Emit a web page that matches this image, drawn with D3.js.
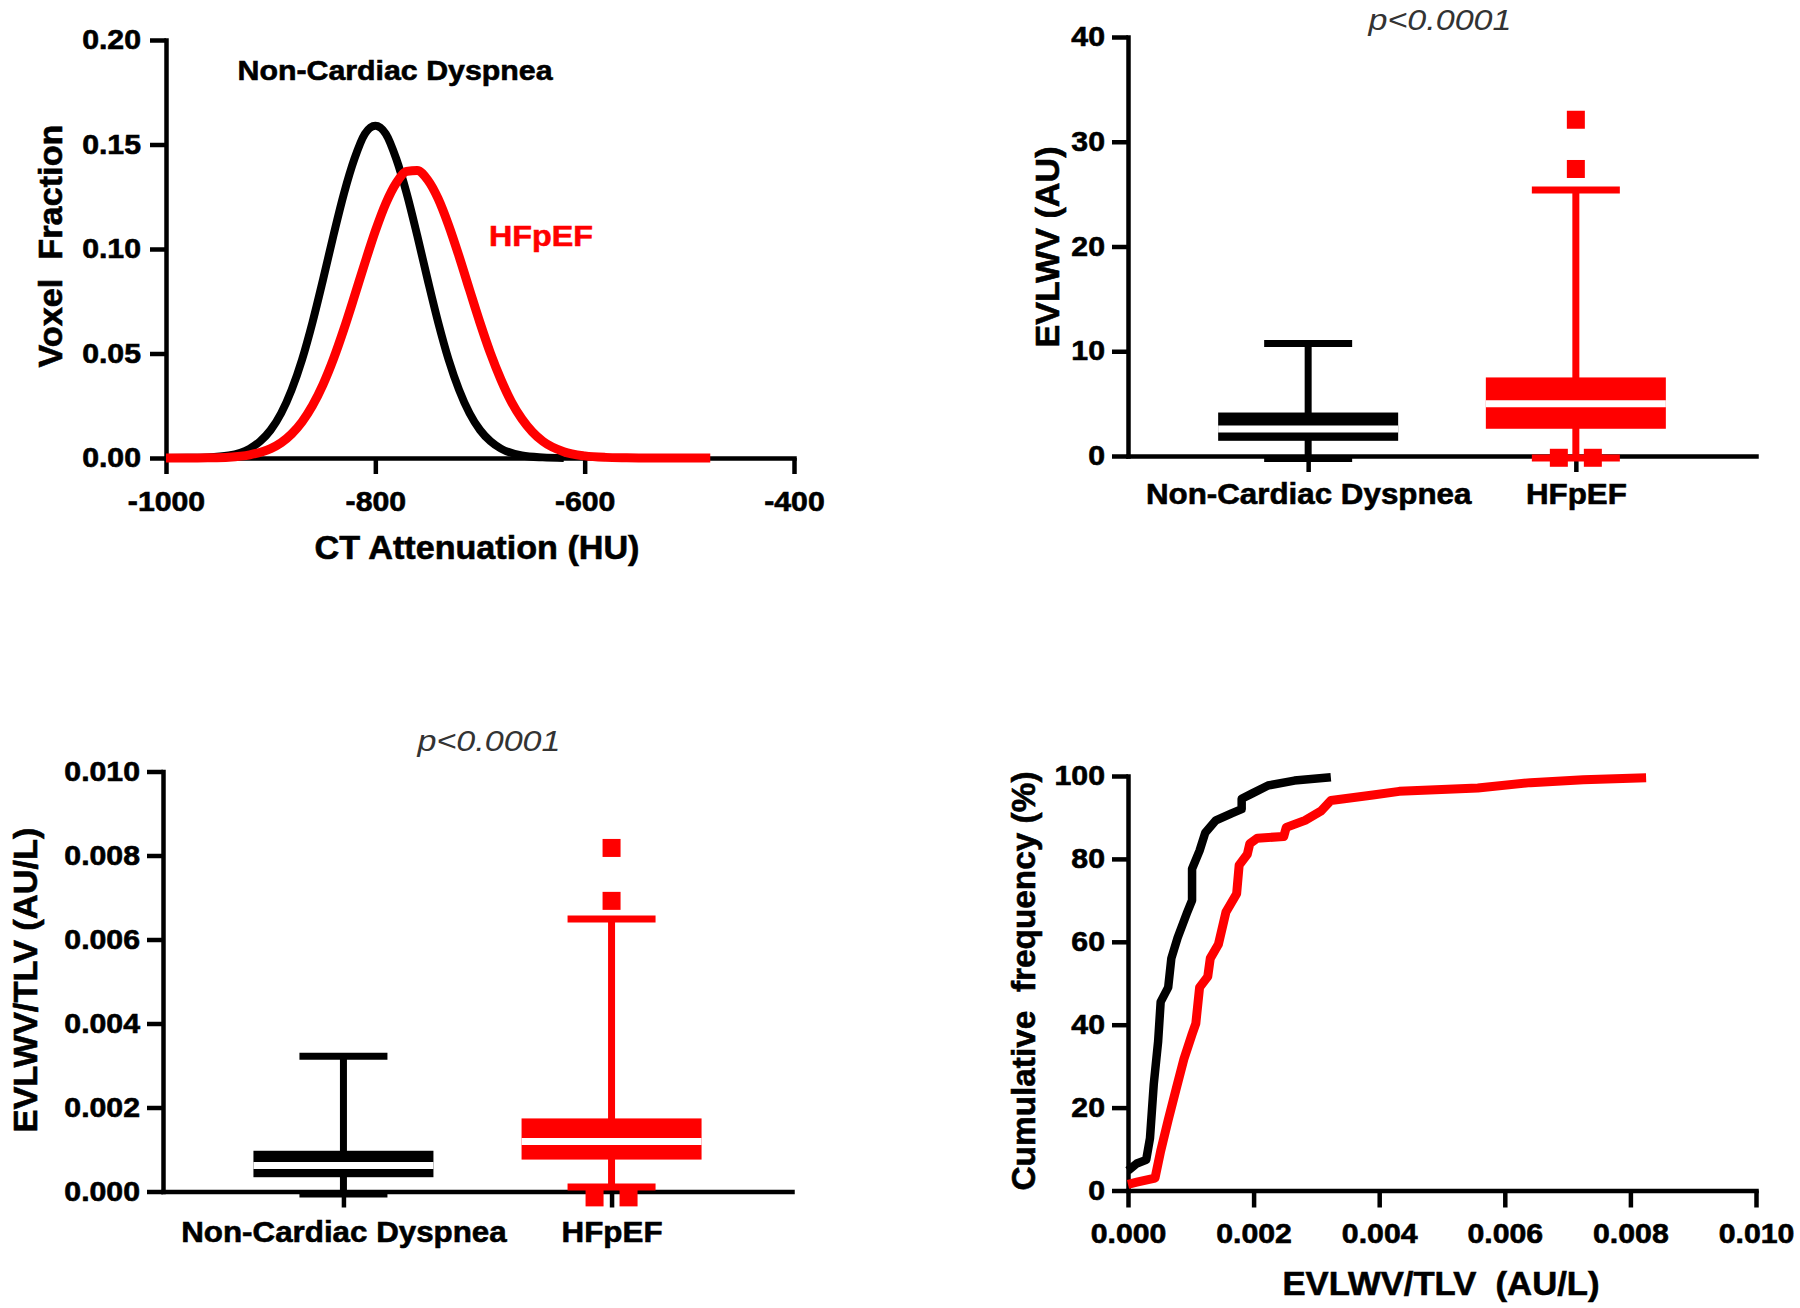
<!DOCTYPE html>
<html><head><meta charset="utf-8">
<script src="https://cdn.jsdelivr.net/npm/d3@7"></script>
<style>body{margin:0;background:#fff}svg{display:block}text{font-family:"Liberation Sans",Arial,sans-serif}</style>
</head><body><svg id="c" width="1800" height="1308"></svg>
<script>
// ---------- DATA ----------
// Panel A: voxel fraction vs CT attenuation
const huNCD   = [-1000,-980,-960,-940,-920,-910,-900,-890,-880,-870,-860,-850,-840,-830,-820,-810,-800,-790,-780,-770,-760,-750,-740,-730,-720,-710,-700,-690,-680,-660,-640,-620];
const fracNCD = [0,0.0001,0.0003,0.0012,0.0045,0.0080,0.0134,0.0214,0.0326,0.0471,0.0650,0.0853,0.1065,0.1265,0.1431,0.1551,0.1590,0.1551,0.1431,0.1265,0.1065,0.0853,0.0650,0.0471,0.0326,0.0214,0.0134,0.0080,0.0045,0.0012,0.0003,0];
const huHF    = [-1000,-980,-960,-940,-920,-900,-890,-880,-870,-860,-850,-840,-830,-820,-810,-800,-790,-780,-770,-760,-750,-740,-730,-720,-710,-700,-690,-680,-670,-660,-650,-640,-620,-600,-580,-560,-540,-480];
const fracHF  = [0,0,0.0001,0.0004,0.0015,0.0045,0.0073,0.0115,0.0173,0.0251,0.0351,0.0474,0.0617,0.0773,0.0933,0.1086,0.1218,0.1316,0.1371,0.1376,0.1331,0.1241,0.1114,0.0965,0.0805,0.0647,0.0501,0.0375,0.0269,0.0187,0.0125,0.0080,0.0030,0.0010,0.0003,0.0001,0,0];
const huTicks   = [-1000,-800,-600,-400];
const fracTicks = [0,0.05,0.10,0.15,0.20];

// Panel B: EVLWV box plot
const groups = ["Non-Cardiac Dyspnea","HFpEF"];
const evlwvMin    = [-0.25,-0.2];
const evlwvQ1     = [1.45,2.6];
const evlwvMedian = [2.58,4.98];
const evlwvQ3     = [4.15,7.5];
const evlwvMax    = [10.75,25.4];
const evlwvOutliers = [[],[32.1,27.4,-0.17,-0.17]];
const evlwvTicks  = [0,10,20,30,40];

// Panel C: EVLWV/TLV box plot
const ratioMin    = [-0.00006,0.00011];
const ratioQ1     = [0.00034,0.00076];
const ratioMedian = [0.00062,0.00119];
const ratioQ3     = [0.00097,0.00174];
const ratioMax    = [0.00322,0.00649];
const ratioOutliers = [[],[0.00818,0.00692,-0.00014,-0.00014]];
const ratioTicks  = [0,0.002,0.004,0.006,0.008,0.010];

// Panel D: cumulative frequency
const cumXNCD = [0,0.00014,0.00029,0.00035,0.00041,0.00048,0.00052,0.00064,0.00069,0.00079,0.00094,0.00102,0.00102,0.00114,0.00123,0.0014,0.00165,0.00181,0.00181,0.00198,0.00223,0.00265,0.00323];
const cumYNCD = [4.8,6.5,7.4,12.6,25.6,36,45.5,49,56,61,67,70,77.6,82,86.3,89.3,91,92,94.5,95.8,97.7,98.9,99.7];
const cumXHF  = [0,0.00014,0.00043,0.00052,0.00064,0.00077,0.00089,0.00102,0.00108,0.00114,0.00127,0.00131,0.00144,0.00156,0.00173,0.00177,0.0019,0.00194,0.00206,0.00248,0.00252,0.00282,0.00307,0.00323,0.0039,0.00432,0.00557,0.00641,0.00725,0.00825];
const cumYHF  = [1.5,2.0,3.0,9.5,17,24.7,31.7,37.7,40.3,49,51.6,56,59.4,67.2,71.6,78.5,81.1,83.7,85,85.4,87.6,89.3,91.5,94.1,95.4,96.3,97.1,98.4,99.1,99.6];
const cumXTicks = [0,0.002,0.004,0.006,0.008,0.010];
const cumYTicks = [0,20,40,60,80,100];

// ---------- DRAWING ----------
const svg = d3.select("#c");
svg.append("rect").attr("width",1800).attr("height",1308).attr("fill","#fff");
const BLACK="#000", RED="#ff0000";
const AX=4.5;

function stretch(sel, f){
  sel.each(function(){
    const l=this.getComputedTextLength();
    d3.select(this).attr("textLength", l*f).attr("lengthAdjust","spacingAndGlyphs");
  });
}
function styleAxis(g){
  g.select(".domain").attr("stroke",BLACK).attr("stroke-width",AX).attr("stroke-linecap","square");
  g.selectAll(".tick line").attr("stroke",BLACK).attr("stroke-width",AX);
  g.selectAll(".tick text").attr("font-size",27).attr("font-weight","bold").attr("fill",BLACK)
    .attr("stroke",BLACK).attr("stroke-width",0.6);
  stretch(g.selectAll(".tick text"),1.12);
}
function text(x,y,s,opt={}){
  const col=opt.fill||BLACK;
  const t=svg.append("text").attr("x",x).attr("y",y).text(s)
    .attr("font-size",opt.size||30).attr("font-weight",opt.weight||"bold")
    .attr("fill",col).attr("text-anchor","middle")
    .style("white-space","pre");
  if(!opt.weight) t.attr("stroke",col).attr("stroke-width",0.6);
  if(opt.italic) t.attr("font-style","italic");
  if(opt.rotate){ t.attr("transform",`rotate(-90,${x},${y})`).attr("dy","0.36em"); }
  if(opt.len) t.attr("textLength",opt.len).attr("lengthAdjust","spacingAndGlyphs");
  return t;
}

// ----- Panel A -----
const xA = d3.scaleLinear().domain([-1000,-400]).range([166,794]);
const yA = d3.scaleLinear().domain([0,0.20]).range([458,40]);
svg.append("g").attr("transform",`translate(0,${yA(0)})`)
  .call(d3.axisBottom(xA).tickValues(huTicks).tickFormat(d=>String(d)).tickSize(16).tickSizeOuter(0).tickPadding(18))
  .call(styleAxis);
svg.append("g").attr("transform",`translate(${xA(-1000)},0)`)
  .call(d3.axisLeft(yA).tickValues(fracTicks).tickFormat(d3.format(".2f")).tickSize(16).tickSizeOuter(0).tickPadding(9))
  .call(styleAxis);
const lineA = d3.line().x(d=>xA(d[0])).y(d=>yA(d[1])).curve(d3.curveMonotoneX);
svg.append("path").datum(d3.zip(huNCD,fracNCD)).attr("d",lineA).attr("fill","none")
  .attr("stroke",BLACK).attr("stroke-width",8).attr("stroke-linejoin","round");
svg.append("path").datum(d3.zip(huHF,fracHF)).attr("d",lineA).attr("fill","none")
  .attr("stroke",RED).attr("stroke-width",9).attr("stroke-linejoin","round");
text(395,80,"Non-Cardiac Dyspnea",{size:28,len:315});
text(541,246,"HFpEF",{size:30,fill:RED,len:104});
text(477,559,"CT Attenuation (HU)",{size:33,len:325});
text(50,246,"Voxel  Fraction",{size:33,rotate:true,len:243});

// ----- Box plot helper -----
function boxPanel(x0,x1,yScale,ticks,fmt,mins,q1,med,q3,maxs,outs,catPad){
  const xs = d3.scalePoint().domain(groups).range([x0,x1]).padding(0.673);
  svg.append("g").attr("transform",`translate(0,${yScale(0)})`)
    .call(d3.axisBottom(xs).tickSize(16).tickSizeOuter(0).tickPadding(catPad))
    .call(g=>{
      g.select(".domain").attr("stroke",BLACK).attr("stroke-width",AX).attr("stroke-linecap","square");
      g.selectAll(".tick line").attr("stroke",BLACK).attr("stroke-width",AX);
      g.selectAll(".tick text").attr("font-size",29).attr("font-weight","bold").attr("fill",BLACK)
        .attr("stroke",BLACK).attr("stroke-width",0.6);
      stretch(g.selectAll(".tick text"),1.08);
    });
  svg.append("g").attr("transform",`translate(${x0},0)`)
    .call(d3.axisLeft(yScale).tickValues(ticks).tickFormat(fmt).tickSize(16).tickSizeOuter(0).tickPadding(7))
    .call(styleAxis);
  const BW=180, CW=88, LW=7;
  groups.forEach((gname,i)=>{
    const col = i===0?BLACK:RED;
    const cx = xs(gname);
    const g = svg.append("g");
    g.append("line").attr("x1",cx).attr("x2",cx).attr("y1",yScale(mins[i])).attr("y2",yScale(maxs[i]))
      .attr("stroke",col).attr("stroke-width",LW);
    [mins[i],maxs[i]].forEach(v=>{
      g.append("line").attr("x1",cx-CW/2).attr("x2",cx+CW/2).attr("y1",yScale(v)).attr("y2",yScale(v))
        .attr("stroke",col).attr("stroke-width",LW);
    });
    g.append("rect").attr("x",cx-BW/2).attr("width",BW)
      .attr("y",yScale(q3[i])).attr("height",yScale(q1[i])-yScale(q3[i])).attr("fill",col);
    g.append("line").attr("x1",cx-BW/2).attr("x2",cx+BW/2).attr("y1",yScale(med[i])).attr("y2",yScale(med[i]))
      .attr("stroke","#fff").attr("stroke-width",7);
    // outliers: duplicates are placed side by side
    const counts = d3.rollup(outs[i],v=>v.length,d=>d);
    const seen = new Map();
    outs[i].forEach(v=>{
      const n=counts.get(v), k=seen.get(v)||0; seen.set(v,k+1);
      const off = n>1 ? (k-(n-1)/2)*34 : 0;
      g.append("rect").attr("x",cx+off-9).attr("y",yScale(v)-9).attr("width",18).attr("height",18).attr("fill",col);
    });
  });
}

// ----- Panel B -----
const yB = d3.scaleLinear().domain([0,40]).range([456,37]);
boxPanel(1128,1756,yB,evlwvTicks,d3.format("d"),evlwvMin,evlwvQ1,evlwvMedian,evlwvQ3,evlwvMax,evlwvOutliers,11);
text(1440,30,"p<0.0001",{size:30,weight:"normal",italic:true,fill:"#333",len:143});
text(1047,247,"EVLWV (AU)",{size:33,rotate:true,len:201});

// ----- Panel C -----
const yC = d3.scaleLinear().domain([0,0.010]).range([1191.5,771.5]);
boxPanel(163,792,yC,ratioTicks,d3.format(".3f"),ratioMin,ratioQ1,ratioMedian,ratioQ3,ratioMax,ratioOutliers,14);
text(489,751,"p<0.0001",{size:30,weight:"normal",italic:true,fill:"#333",len:143});
text(25,980,"EVLWV/TLV (AU/L)",{size:33,rotate:true,len:305});

// ----- Panel D -----
const xD = d3.scaleLinear().domain([0,0.010]).range([1128,1756]);
const yD = d3.scaleLinear().domain([0,100]).range([1190.5,776]);
svg.append("g").attr("transform",`translate(0,${yD(0)})`)
  .call(d3.axisBottom(xD).tickValues(cumXTicks).tickFormat(d3.format(".3f")).tickSize(17).tickSizeOuter(0).tickPadding(16))
  .call(styleAxis);
svg.append("g").attr("transform",`translate(${xD(0)},0)`)
  .call(d3.axisLeft(yD).tickValues(cumYTicks).tickFormat(d3.format("d")).tickSize(16).tickSizeOuter(0).tickPadding(7))
  .call(styleAxis);
const lineD = d3.line().x(d=>xD(d[0])).y(d=>yD(d[1]));
svg.append("path").datum(d3.zip(cumXNCD,cumYNCD)).attr("d",lineD).attr("fill","none")
  .attr("stroke",BLACK).attr("stroke-width",8.5).attr("stroke-linejoin","round");
svg.append("path").datum(d3.zip(cumXHF,cumYHF)).attr("d",lineD).attr("fill","none")
  .attr("stroke",RED).attr("stroke-width",9).attr("stroke-linejoin","round");
text(1441,1295,"EVLWV/TLV  (AU/L)",{size:33,len:317});
text(1023,981,"Cumulative  frequency (%)",{size:33,rotate:true,len:419});
</script></body></html>
